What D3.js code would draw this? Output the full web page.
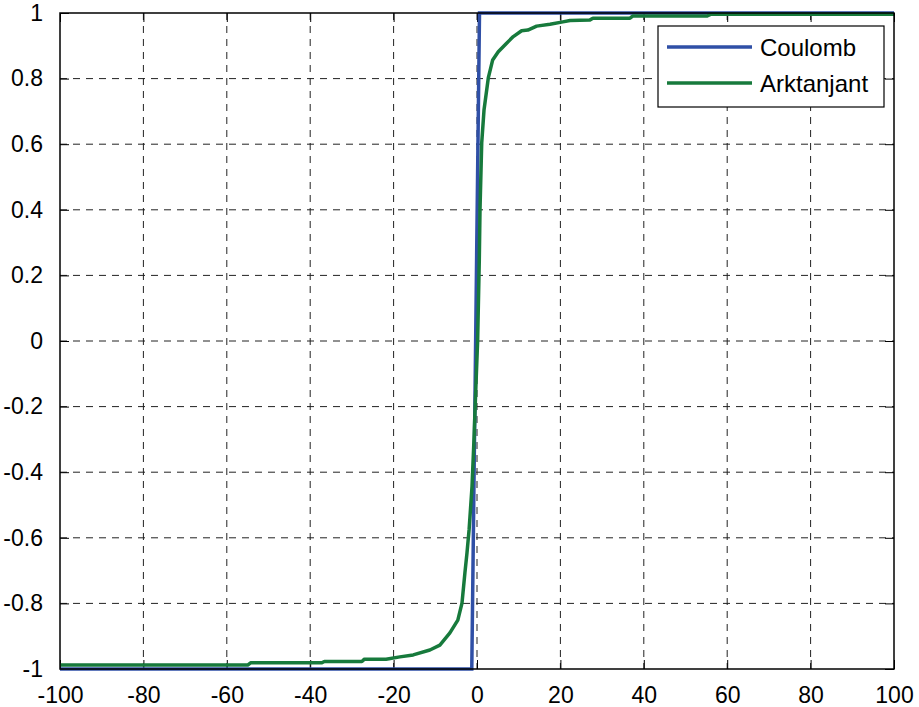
<!DOCTYPE html>
<html>
<head>
<meta charset="utf-8">
<script src="https://d3js.org/d3.v7.min.js"></script>
<style>
  body { margin: 0; background: #fff; }
  svg { display: block; font-family: "Liberation Sans", Arial, sans-serif; }
</style>
</head>
<body>
<svg id="chart" width="919" height="707"></svg>
<script>
// tick values
const xTicks = [-100, -80, -60, -40, -20, 0, 20, 40, 60, 80, 100];
const yTicks = [-1, -0.8, -0.6, -0.4, -0.2, 0, 0.2, 0.4, 0.6, 0.8, 1];

// Coulomb friction (sign-like step)
const coulombX = [-100, -1.25, 0.6, 100];
const coulombY = [-1, -1, 1, 1];

// arctangent approximation
const arkX = [-100, -55, -54.3, -37.2, -36.6, -27.6, -27, -21.8, -18.5, -15.3, -11.3, -8.9, -6.5, -4.6, -3.6, -2.9, -2.4, -1.9, -1.2, -0.7, -0.3, 0.15, 0.55, 0.72, 1.13, 1.68, 2.71, 3.76, 5.1, 7.1, 8.7, 10.7, 12.2, 14.3, 17.5, 20.6, 22.3, 27.1, 27.8, 36.7, 37.4, 55.2, 56, 100];
const arkY = [-0.988, -0.988, -0.981, -0.981, -0.977, -0.977, -0.970, -0.970, -0.963, -0.957, -0.942, -0.927, -0.890, -0.851, -0.799, -0.707, -0.646, -0.576, -0.445, -0.293, -0.15, 0, 0.247, 0.40, 0.604, 0.704, 0.802, 0.857, 0.882, 0.908, 0.928, 0.946, 0.948, 0.960, 0.966, 0.973, 0.977, 0.979, 0.984, 0.984, 0.991, 0.991, 0.996, 0.996];

const seriesNames = ["Coulomb", "Arktanjant"];
const seriesColors = ["#2f4fa6", "#177a3c"];

const margin = { top: 13, right: 25, bottom: 38, left: 60 };
const width = 919, height = 707;
const innerW = width - margin.left - margin.right;
const innerH = height - margin.top - margin.bottom;

const svg = d3.select("#chart");
const g = svg.append("g").attr("transform", `translate(${margin.left},${margin.top})`);

const x = d3.scaleLinear().domain([-100, 100]).range([0, innerW]);
const y = d3.scaleLinear().domain([-1, 1]).range([innerH, 0]);

// grid
const grid = g.append("g").attr("class", "grid");
grid.selectAll("line.vx")
  .data(xTicks.slice(1, -1))
  .join("line")
  .attr("class", "vx")
  .attr("x1", d => x(d)).attr("x2", d => x(d))
  .attr("y1", 0).attr("y2", innerH);
grid.selectAll("line.hy")
  .data(yTicks.slice(1, -1))
  .join("line")
  .attr("class", "hy")
  .attr("x1", 0).attr("x2", innerW)
  .attr("y1", d => y(d)).attr("y2", d => y(d));
grid.selectAll("line")
  .attr("stroke", "#222")
  .attr("stroke-width", 1)
  .attr("stroke-dasharray", "7,6");

// axes with inward ticks
const tickLen = 9;
const fmt = d => String(d); // plain hyphen minus, like the original

g.append("g")
  .attr("transform", `translate(0,${innerH})`)
  .call(d3.axisBottom(x).tickValues(xTicks).tickSizeInner(-tickLen).tickSizeOuter(0).tickPadding(18).tickFormat(fmt));
g.append("g")
  .call(d3.axisLeft(y).tickValues(yTicks).tickSizeInner(-tickLen).tickSizeOuter(0).tickPadding(17).tickFormat(fmt));
g.append("g")
  .call(d3.axisTop(x).tickValues(xTicks).tickSizeInner(-tickLen).tickSizeOuter(0).tickFormat(""));
g.append("g")
  .attr("transform", `translate(${innerW},0)`)
  .call(d3.axisRight(y).tickValues(yTicks).tickSizeInner(-tickLen).tickSizeOuter(0).tickFormat(""));

g.selectAll(".domain").remove();
g.selectAll(".tick line").attr("stroke", "#000").attr("stroke-width", 1);
g.selectAll(".tick text")
  .attr("fill", "#000")
  .attr("font-size", 23)
  .attr("font-family", "'Liberation Sans', Arial, sans-serif");

// lines
const line = d3.line().x(d => x(d[0])).y(d => y(d[1]));
const coulombData = coulombX.map((v, i) => [v, coulombY[i]]);
const arkData = arkX.map((v, i) => [v, arkY[i]]);

g.append("path")
  .datum(coulombData)
  .attr("fill", "none")
  .attr("stroke", seriesColors[0])
  .attr("stroke-width", 3.5)
  .attr("d", line);
g.append("path")
  .datum(arkData)
  .attr("fill", "none")
  .attr("stroke", seriesColors[1])
  .attr("stroke-width", 3.5)
  .attr("stroke-linejoin", "round")
  .attr("d", line);

// axes box
g.append("rect")
  .attr("x", 0).attr("y", 0)
  .attr("width", innerW).attr("height", innerH)
  .attr("fill", "none")
  .attr("stroke", "#000")
  .attr("stroke-width", 1.5);

// legend
const lg = g.append("g").attr("transform", `translate(${innerW - 236},${13})`);
lg.append("rect")
  .attr("width", 226).attr("height", 81)
  .attr("fill", "#fff")
  .attr("stroke", "#000")
  .attr("stroke-width", 1.2);
seriesNames.forEach((name, i) => {
  const yy = 21 + i * 36;
  lg.append("line")
    .attr("x1", 9).attr("x2", 94)
    .attr("y1", yy).attr("y2", yy)
    .attr("stroke", seriesColors[i])
    .attr("stroke-width", 3.5);
  lg.append("text")
    .attr("x", 102).attr("y", yy)
    .attr("dy", "0.36em")
    .attr("font-size", 24)
    .attr("fill", "#000")
    .text(name);
});
</script>
</body>
</html>
